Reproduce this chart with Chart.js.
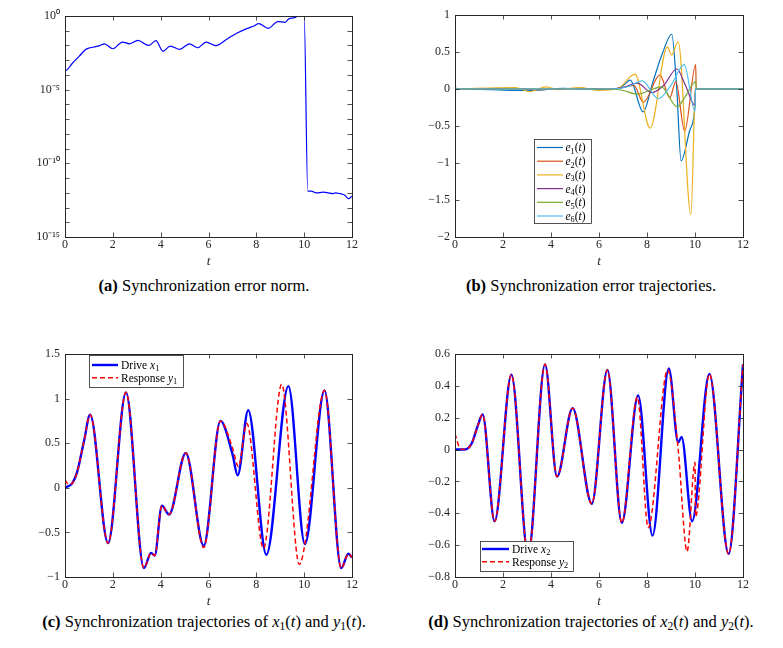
<!DOCTYPE html>
<html>
<head>
<meta charset="utf-8">
<script src="https://cdn.jsdelivr.net/npm/chart.js@4.4.0/dist/chart.umd.min.js"></script>
<style>
  html, body { margin: 0; padding: 0; background: #fff; }
  #wrap { position: relative; width: 783px; height: 648px; overflow: hidden; background: #fff; }
  canvas { position: absolute; }
  .cap { position: absolute; width: 440px; text-align: center; font-family: "Liberation Serif", "Times New Roman", serif; font-size: 16.5px; line-height: 18px; color: #000; white-space: nowrap; }
  .cap sub { font-size: 70%; vertical-align: -0.25em; line-height: 0; }
</style>
</head>
<body>
<div id="wrap">
  <canvas id="cA" width="370" height="272" style="left:0px;top:0px"></canvas>
  <canvas id="cB" width="393" height="272" style="left:390px;top:0px"></canvas>
  <canvas id="cC" width="370" height="272" style="left:0px;top:340px"></canvas>
  <canvas id="cD" width="393" height="272" style="left:390px;top:340px"></canvas>
  <div class="cap" style="left:-16px;top:277px"><b>(a)</b> Synchronization error norm.</div>
  <div class="cap" style="left:371px;top:277px"><b>(b)</b> Synchronization error trajectories.</div>
  <div class="cap" style="left:-16px;top:613px"><b>(c)</b> Synchronization trajectories of <i>x</i><sub>1</sub>(<i>t</i>) and <i>y</i><sub>1</sub>(<i>t</i>).</div>
  <div class="cap" style="left:371px;top:613px"><b>(d)</b> Synchronization trajectories of <i>x</i><sub>2</sub>(<i>t</i>) and <i>y</i><sub>2</sub>(<i>t</i>).</div>
</div>
<script>
// ---------------- DATA ----------------
// (a) synchronization error norm (log scale)
const tA   = [0, 0.01, 0.3, 0.6, 0.85, 1.0, 1.2, 1.45, 1.65, 2.0, 2.4, 2.7, 3.05, 3.5, 3.8, 4.1, 4.4, 4.8, 5.2, 5.55, 5.9, 6.3, 6.8, 7.2, 7.6, 7.9, 8.1, 8.5, 8.9, 9.2, 9.35, 9.6, 9.75, 10.0, 10.15, 10.3, 10.5, 10.8, 11.0, 11.2, 11.3, 11.5, 11.7, 11.85, 12];
const errA = [0.1, 1.9e-4, 6e-4, 1.9e-3, 5.1e-3, 6.7e-3, 7.9e-3, 9.8e-3, 1.3e-2, 6e-3, 1.7e-2, 1.3e-2, 2.2e-2, 1.0e-2, 2.1e-2, 4e-3, 9.1e-3, 5.5e-3, 1.3e-2, 7e-3, 1.7e-2, 9.8e-3, 2.9e-2, 7e-2, 0.14, 0.21, 0.3, 0.145, 0.42, 0.37, 0.63, 0.77, 1.0, 1.0, 1.3e-12, 1.3e-12, 9.8e-13, 1.1e-12, 1.0e-12, 8.7e-13, 1.0e-12, 8.7e-13, 6.8e-13, 4e-13, 5.8e-13];
const expTicksA = [-15,-14,-13,-12,-11,-10,-9,-8,-7,-6,-5,-4,-3,-2,-1,0];

// (b) error trajectories e1..e6
const tE1 = [0, 1.5, 3.2, 4.5, 6.0, 6.9, 7.3, 7.84, 8.23, 8.64, 9.03, 9.24, 9.42, 9.79, 10.0, 10.02, 12];
const vE1 = [0, -0.01, -0.02, 0.01, -0.01, 0.02, 0.12, -0.31, 0.08, 0.48, 0.74, 0.0, -0.97, -0.55, -0.22, 0, 0];
const tE2 = [0, 2.5, 3.5, 5.0, 6.5, 7.0, 7.45, 7.85, 8.54, 8.95, 9.2, 9.57, 10.03, 10.05, 12];
const vE2 = [0, 0.01, -0.01, 0.01, 0, 0.02, 0.05, -0.18, 0.19, -0.12, 0.1, -0.57, 0.33, 0, 0];
const tE3 = [0, 2.5, 3.1, 3.8, 4.3, 5.2, 6.0, 6.8, 7.5, 8.13, 8.85, 9.02, 9.3, 9.83, 10.0, 10.02, 12];
const vE3 = [0, 0.02, -0.035, 0.03, -0.01, 0.02, -0.02, 0.01, 0.2, -0.53, 0.57, 0.46, 0.64, -1.70, -0.05, 0, 0];
const tE4 = [0, 6.5, 7.0, 7.6, 8.2, 8.7, 9.24, 9.6, 10.0, 10.02, 12];
const vE4 = [0, 0, 0.02, 0.08, -0.05, 0.05, 0.27, 0.05, -0.22, 0, 0];
const tE5 = [0, 6.5, 7.0, 7.6, 8.1, 8.6, 9.25, 9.6, 10.03, 10.05, 12];
const vE5 = [0, 0, -0.02, -0.07, -0.02, 0.03, -0.24, -0.1, 0.1, 0, 0];
const tE6 = [0, 0.05, 6.5, 7.2, 7.8, 8.47, 9.0, 9.55, 10.0, 10.02, 12];
const vE6 = [0.08, 0, 0, 0.03, 0.11, -0.13, 0.05, 0.33, -0.3, 0, 0];
const labelsE = ['1','2','3','4','5','6'];

// (c) drive x1 and response y1
const tX1 = [0, 0.3, 0.5, 0.8, 1.05, 1.8, 2.55, 3.3, 3.6, 3.75, 4.05, 4.35, 5.05, 5.8, 6.5, 7.0, 7.22, 7.66, 8.42, 9.34, 10.03, 10.85, 11.55, 11.85, 12];
const vX1 = [0, 0.05, 0.17, 0.53, 0.82, -0.62, 1.07, -0.90, -0.73, -0.76, -0.20, -0.30, 0.39, -0.65, 0.75, 0.38, 0.14, 0.87, -0.75, 1.14, -0.63, 1.09, -0.90, -0.74, -0.78];
const tY1 = [0, 0.15, 0.3, 0.5, 0.8, 1.05, 1.8, 2.55, 3.3, 3.6, 3.75, 4.05, 4.35, 5.05, 5.8, 6.5, 7.0, 7.25, 7.6, 8.3, 9.06, 9.8, 10.03, 10.85, 11.55, 11.85, 12];
const vY1 = [0.09, 0.04, 0.05, 0.17, 0.53, 0.82, -0.62, 1.07, -0.90, -0.73, -0.76, -0.20, -0.30, 0.39, -0.67, 0.75, 0.45, 0.24, 0.72, -0.68, 1.16, -0.86, -0.63, 1.09, -0.90, -0.74, -0.78];

// (d) drive x2 and response y2
const tX2 = [0, 0.4, 0.7, 0.95, 1.15, 1.65, 2.35, 3.05, 3.75, 4.25, 4.9, 5.7, 6.35, 6.95, 7.63, 8.23, 8.91, 9.30, 9.44, 9.88, 10.6, 11.4, 12];
const vX2 = [0, 0.0, 0.04, 0.15, 0.22, -0.45, 0.47, -0.66, 0.535, -0.17, 0.26, -0.34, 0.50, -0.46, 0.34, -0.54, 0.51, 0.045, 0.08, -0.45, 0.475, -0.655, 0.535];
const tY2 = [0, 0.2, 0.4, 0.7, 0.95, 1.15, 1.65, 2.35, 3.05, 3.75, 4.25, 4.9, 5.7, 6.35, 6.95, 7.6, 8.05, 8.86, 9.30, 9.67, 10.0, 10.02, 10.6, 11.4, 12];
const vY2 = [0.1, 0.01, 0.0, 0.04, 0.15, 0.22, -0.45, 0.47, -0.66, 0.535, -0.17, 0.26, -0.34, 0.50, -0.46, 0.33, -0.49, 0.50, 0.0, -0.64, -0.08, -0.42, 0.475, -0.655, 0.535];

// ---------------- HELPERS ----------------
const SERIF = '"Liberation Serif", "Times New Roman", serif';
const AX = '#262626';
const TICK_SIZE = 12;
const pts = (ts, vs) => ts.map((t, i) => ({x: t, y: vs[i]}));
const minus = s => String(s).replace(/-/g, '\u2212');
const SUP = {'0':'\u2070','1':'\u00b9','2':'\u00b2','3':'\u00b3','4':'\u2074','5':'\u2075','6':'\u2076','7':'\u2077','8':'\u2078','9':'\u2079','-':'\u207b'};
const supStr = s => String(s).split('').map(c => SUP[c]).join('');

function drawRich(ctx, x, yMid, segs, size) {
  ctx.save();
  ctx.fillStyle = '#000';
  ctx.textBaseline = 'alphabetic';
  ctx.textAlign = 'left';
  const base = yMid + size * 0.34;
  for (const s of segs) {
    const fs = s.sub ? size * 0.72 : size;
    ctx.font = (s.i ? 'italic ' : '') + fs + 'px ' + SERIF;
    ctx.fillText(s.t, x, base + (s.sub ? size * 0.22 : 0));
    x += ctx.measureText(s.t).width;
  }
  ctx.restore();
}

// MATLAB-like box with inward ticks on all four sides
const boxPlugin = {
  id: 'mbox',
  afterDatasetsDraw(chart) {
    const {ctx, chartArea: a, scales} = chart;
    ctx.save();
    ctx.strokeStyle = AX;
    ctx.lineWidth = 0.8;
    const L = 4.5;
    ctx.beginPath();
    for (const t of scales.x.ticks) {
      const p = Math.round(scales.x.getPixelForValue(t.value)) + 0.5;
      ctx.moveTo(p, a.bottom); ctx.lineTo(p, a.bottom - L);
      ctx.moveTo(p, a.top); ctx.lineTo(p, a.top + L);
    }
    for (const t of scales.y.ticks) {
      const p = Math.round(scales.y.getPixelForValue(t.value)) + 0.5;
      ctx.moveTo(a.left, p); ctx.lineTo(a.left + L, p);
      ctx.moveTo(a.right, p); ctx.lineTo(a.right - L, p);
    }
    ctx.stroke();
    ctx.lineWidth = 1;
    ctx.strokeRect(Math.round(a.left) + 0.5, Math.round(a.top) + 0.5, Math.round(a.right - a.left), Math.round(a.bottom - a.top));
    ctx.restore();
  }
};

// legend drawn inside the plot, reading colours/styles from the datasets
const legendPlugin = {
  id: 'boxLegend',
  afterDraw(chart, args, o) {
    if (!o || !o.items) return;
    const ctx = chart.ctx;
    ctx.save();
    ctx.fillStyle = '#fff';
    ctx.fillRect(o.x, o.y, o.w, o.h);
    ctx.strokeStyle = AX;
    ctx.lineWidth = 0.8;
    ctx.strokeRect(o.x + 0.5, o.y + 0.5, o.w, o.h);
    o.items.forEach((it, i) => {
      const ds = chart.data.datasets[it.dataset];
      const yy = o.rowY0 + i * o.rowDy;
      ctx.save();
      ctx.strokeStyle = ds.borderColor;
      ctx.lineWidth = ds.borderWidth;
      ctx.setLineDash(ds.borderDash || []);
      ctx.beginPath();
      ctx.moveTo(o.lineX0, yy); ctx.lineTo(o.lineX1, yy);
      ctx.stroke();
      ctx.restore();
      drawRich(ctx, o.textX, yy, it.segs, o.size);
    });
    ctx.restore();
  }
};

function xScale(pad) {
  return {
    type: 'linear', min: 0, max: 12,
    grid: {display: false, drawTicks: false},
    border: {display: false},
    ticks: {stepSize: 2, padding: 1, color: AX, font: {family: SERIF, size: TICK_SIZE}, maxRotation: 0},
    title: {display: true, text: 't', color: AX, font: {family: SERIF, size: 13, style: 'italic'}, padding: {top: 0, bottom: pad}},
    afterFit(s) { s.height = 35; }
  };
}
function yLinear(min, max, step, dec) {
  return {
    type: 'linear', min: min, max: max,
    grid: {display: false, drawTicks: false},
    border: {display: false},
    ticks: {stepSize: step, padding: 5, color: AX, font: {family: SERIF, size: TICK_SIZE},
      callback: v => {
        const r = Math.round(v * 100) / 100;
        if (Math.abs(r) < 1e-9) return '0';
        return minus(dec ? r.toFixed(dec) : String(r));
      }},
    afterFit(s) { s.width = 65; }
  };
}
function baseOpts(scales, padTop, padRight, legend) {
  return {
    responsive: false, animation: false, devicePixelRatio: 1,
    layout: {padding: {top: padTop, right: padRight, left: 0, bottom: 0}},
    elements: {point: {radius: 0}, line: {cubicInterpolationMode: 'monotone'}},
    plugins: {legend: {display: false}, tooltip: {enabled: false}, boxLegend: legend || {}},
    scales: scales
  };
}
function line(data, color, width, dash, order) {
  return {data: data, borderColor: color, borderWidth: width, borderDash: dash || [], order: order, fill: false, pointRadius: 0};
}

function build() {
  Chart.register(boxPlugin, legendPlugin);

  // (a)
  new Chart(document.getElementById('cA'), {
    type: 'line',
    data: {datasets: [line(pts(tA, errA), '#0000ff', 1.2, null, 0)]},
    options: baseOpts({
      x: xScale(2.6),
      y: {
        type: 'logarithmic', min: 1e-15, max: 1,
        grid: {display: false, drawTicks: false}, border: {display: false},
        afterBuildTicks(s) { s.ticks = expTicksA.map(e => ({value: Math.pow(10, e)})); },
        ticks: {autoSkip: false, padding: 5, color: AX, font: {family: SERIF, size: TICK_SIZE},
          callback(v) { const e = Math.round(Math.log10(v)); return e % 5 === 0 ? '10' + supStr(e) : ''; }},
        afterFit(s) { s.width = 65; }
      }
    }, 16, 18)
  });

  // (b)
  const colorsE = ['#0072BD', '#D95319', '#EDB120', '#7E2F8E', '#77AC30', '#4DBEEE'];
  const tsE = [tE1, tE2, tE3, tE4, tE5, tE6];
  const vsE = [vE1, vE2, vE3, vE4, vE5, vE6];
  new Chart(document.getElementById('cB'), {
    type: 'line',
    data: {datasets: tsE.map((t, i) => line(pts(t, vsE[i]), colorsE[i], 1.2, null, 6 - i))},
    options: baseOpts({x: xScale(2.6), y: yLinear(-2, 1, 0.5, 0)}, 15, 40, {
      x: 144, y: 139, w: 57, h: 84, rowY0: 147.5, rowDy: 13.7, lineX0: 147, lineX1: 173, textX: 175.5, size: 11.5,
      items: labelsE.map((n, i) => ({dataset: i, segs: [{t: 'e', i: true}, {t: n, sub: true}, {t: '('}, {t: 't', i: true}, {t: ')'}]}))
    })
  });

  // (c)
  new Chart(document.getElementById('cC'), {
    type: 'line',
    data: {datasets: [
      line(pts(tX1, vX1), '#0000ff', 2.4, null, 1),
      line(pts(tY1, vY1), '#ff0000', 1.5, [5, 3], 0)
    ]},
    options: baseOpts({x: xScale(2.4), y: yLinear(-1, 1.5, 0.5, 0)}, 14, 18, {
      x: 89, y: 15, w: 94, h: 32, rowY0: 25, rowDy: 12.7, lineX0: 92, lineX1: 118, textX: 121, size: 11.5,
      items: [
        {dataset: 0, segs: [{t: 'Drive '}, {t: 'x', i: true}, {t: '1', sub: true}]},
        {dataset: 1, segs: [{t: 'Response '}, {t: 'y', i: true}, {t: '1', sub: true}]}
      ]
    })
  });

  // (d)
  new Chart(document.getElementById('cD'), {
    type: 'line',
    data: {datasets: [
      line(pts(tX2, vX2), '#0000ff', 2.4, null, 1),
      line(pts(tY2, vY2), '#ff0000', 1.5, [5, 3], 0)
    ]},
    options: baseOpts({x: xScale(2.4), y: yLinear(-0.8, 0.6, 0.2, 1)}, 14, 40, {
      x: 90, y: 201, w: 93, h: 30, rowY0: 209, rowDy: 12.7, lineX0: 92, lineX1: 119, textX: 122, size: 11.5,
      items: [
        {dataset: 0, segs: [{t: 'Drive '}, {t: 'x', i: true}, {t: '2', sub: true}]},
        {dataset: 1, segs: [{t: 'Response '}, {t: 'y', i: true}, {t: '2', sub: true}]}
      ]
    })
  });
}

const ready = (document.fonts && document.fonts.load)
  ? Promise.all([document.fonts.load('12px "Liberation Serif"'), document.fonts.load('italic 13px "Liberation Serif"'), document.fonts.load('bold 16px "Liberation Serif"')]).catch(() => {})
  : Promise.resolve();
Promise.race([ready, new Promise(r => setTimeout(r, 800))]).then(build);
</script>
</body>
</html>
